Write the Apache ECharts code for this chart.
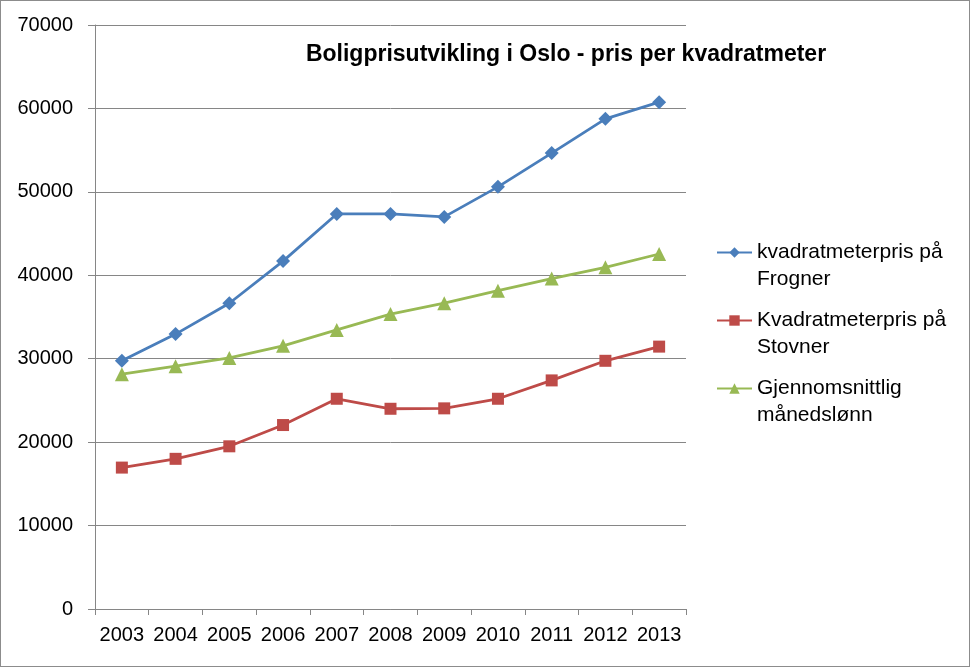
<!DOCTYPE html>
<html lang="no">
  <head>
    <meta charset="UTF-8" />
    <title>Boligprisutvikling i Oslo</title>
    <script src="https://cdn.jsdelivr.net/npm/echarts@6/dist/echarts.min.js"></script>
  </head>
  <style>
    body,
    html {
      margin: 0;
      padding: 0;
      background: #fff;
    }
    #chart {
      width: 968px;
      height: 665px;
      border: 1px solid #8c8c8c;
    }
  </style>
  <body>
    <div id="chart"></div>
  </body>
  <script>
    var years = ["2003", "2004", "2005", "2006", "2007", "2008", "2009", "2010", "2011", "2012", "2013"];
    // kr per kvadratmeter, lest av grafen
    var frogner = [29750, 32950, 36650, 41700, 47350, 47350, 47000, 50600, 54650, 58750, 60750];
    var stovner = [16950, 18000, 19500, 22050, 25200, 24000, 24050, 25200, 27400, 29750, 31450];
    var lonn = [28150, 29100, 30100, 31550, 33450, 35350, 36650, 38150, 39600, 40950, 42550];
    var seriesNames = [
      "kvadratmeterpris på\nFrogner",
      "Kvadratmeterpris på\nStovner",
      "Gjennomsnittlig\nmånedslønn"
    ];

    var font = "'Liberation Sans', Arial, sans-serif";
    var axisGray = "#868686";

    function line(name, data, color, symbol, size) {
      return {
        name: name,
        type: "line",
        data: data,
        symbol: symbol,
        symbolSize: size,
        lineStyle: { color: color, width: 2.8 },
        itemStyle: { color: color },
        emphasis: { disabled: true }
      };
    }

    var option = {
      animation: false,
      textStyle: { fontFamily: font },
      title: {
        text: "Boligprisutvikling i Oslo - pris per kvadratmeter",
        left: 560,
        top: 37,
        textAlign: "center",
        textStyle: { fontSize: 23, fontWeight: "bold", color: "#000", fontFamily: font }
      },
      legend: {
        orient: "vertical",
        left: 710,
        top: 206,
        itemWidth: 35,
        itemHeight: 13,
        itemGap: -13,
        data: seriesNames,
        // blank first line so the icon sits on the first text line
        formatter: function (name) {
          return "\n" + name;
        },
        textStyle: {
          fontSize: 21,
          lineHeight: 27,
          color: "#000",
          fontFamily: font
        }
      },
      grid: { left: 94, right: 283, top: 24, bottom: 57 },
      xAxis: {
        type: "category",
        data: years,
        boundaryGap: true,
        axisLine: { lineStyle: { color: axisGray, width: 1 } },
        axisTick: { show: true, length: 6, lineStyle: { color: axisGray } },
        axisLabel: { color: "#000", fontSize: 20, margin: 16, interval: 0 }
      },
      yAxis: {
        type: "value",
        min: 0,
        max: 70000,
        interval: 10000,
        axisLine: { show: true, lineStyle: { color: axisGray, width: 1 } },
        axisTick: { show: true, length: 7, lineStyle: { color: axisGray } },
        axisLabel: {
          color: "#000",
          fontSize: 20,
          margin: 22,
          formatter: function (v) {
            return String(v);
          }
        },
        splitLine: { lineStyle: { color: axisGray, width: 1 } }
      },
      series: [
        line(seriesNames[0], frogner, "#4A7EBB", "diamond", 14),
        line(seriesNames[1], stovner, "#BE4B48", "rect", 12),
        line(seriesNames[2], lonn, "#98B954", "triangle", 14)
      ]
    };

    var chart = echarts.init(document.querySelector("#chart"));
    chart.setOption(option);
  </script>
</html>
